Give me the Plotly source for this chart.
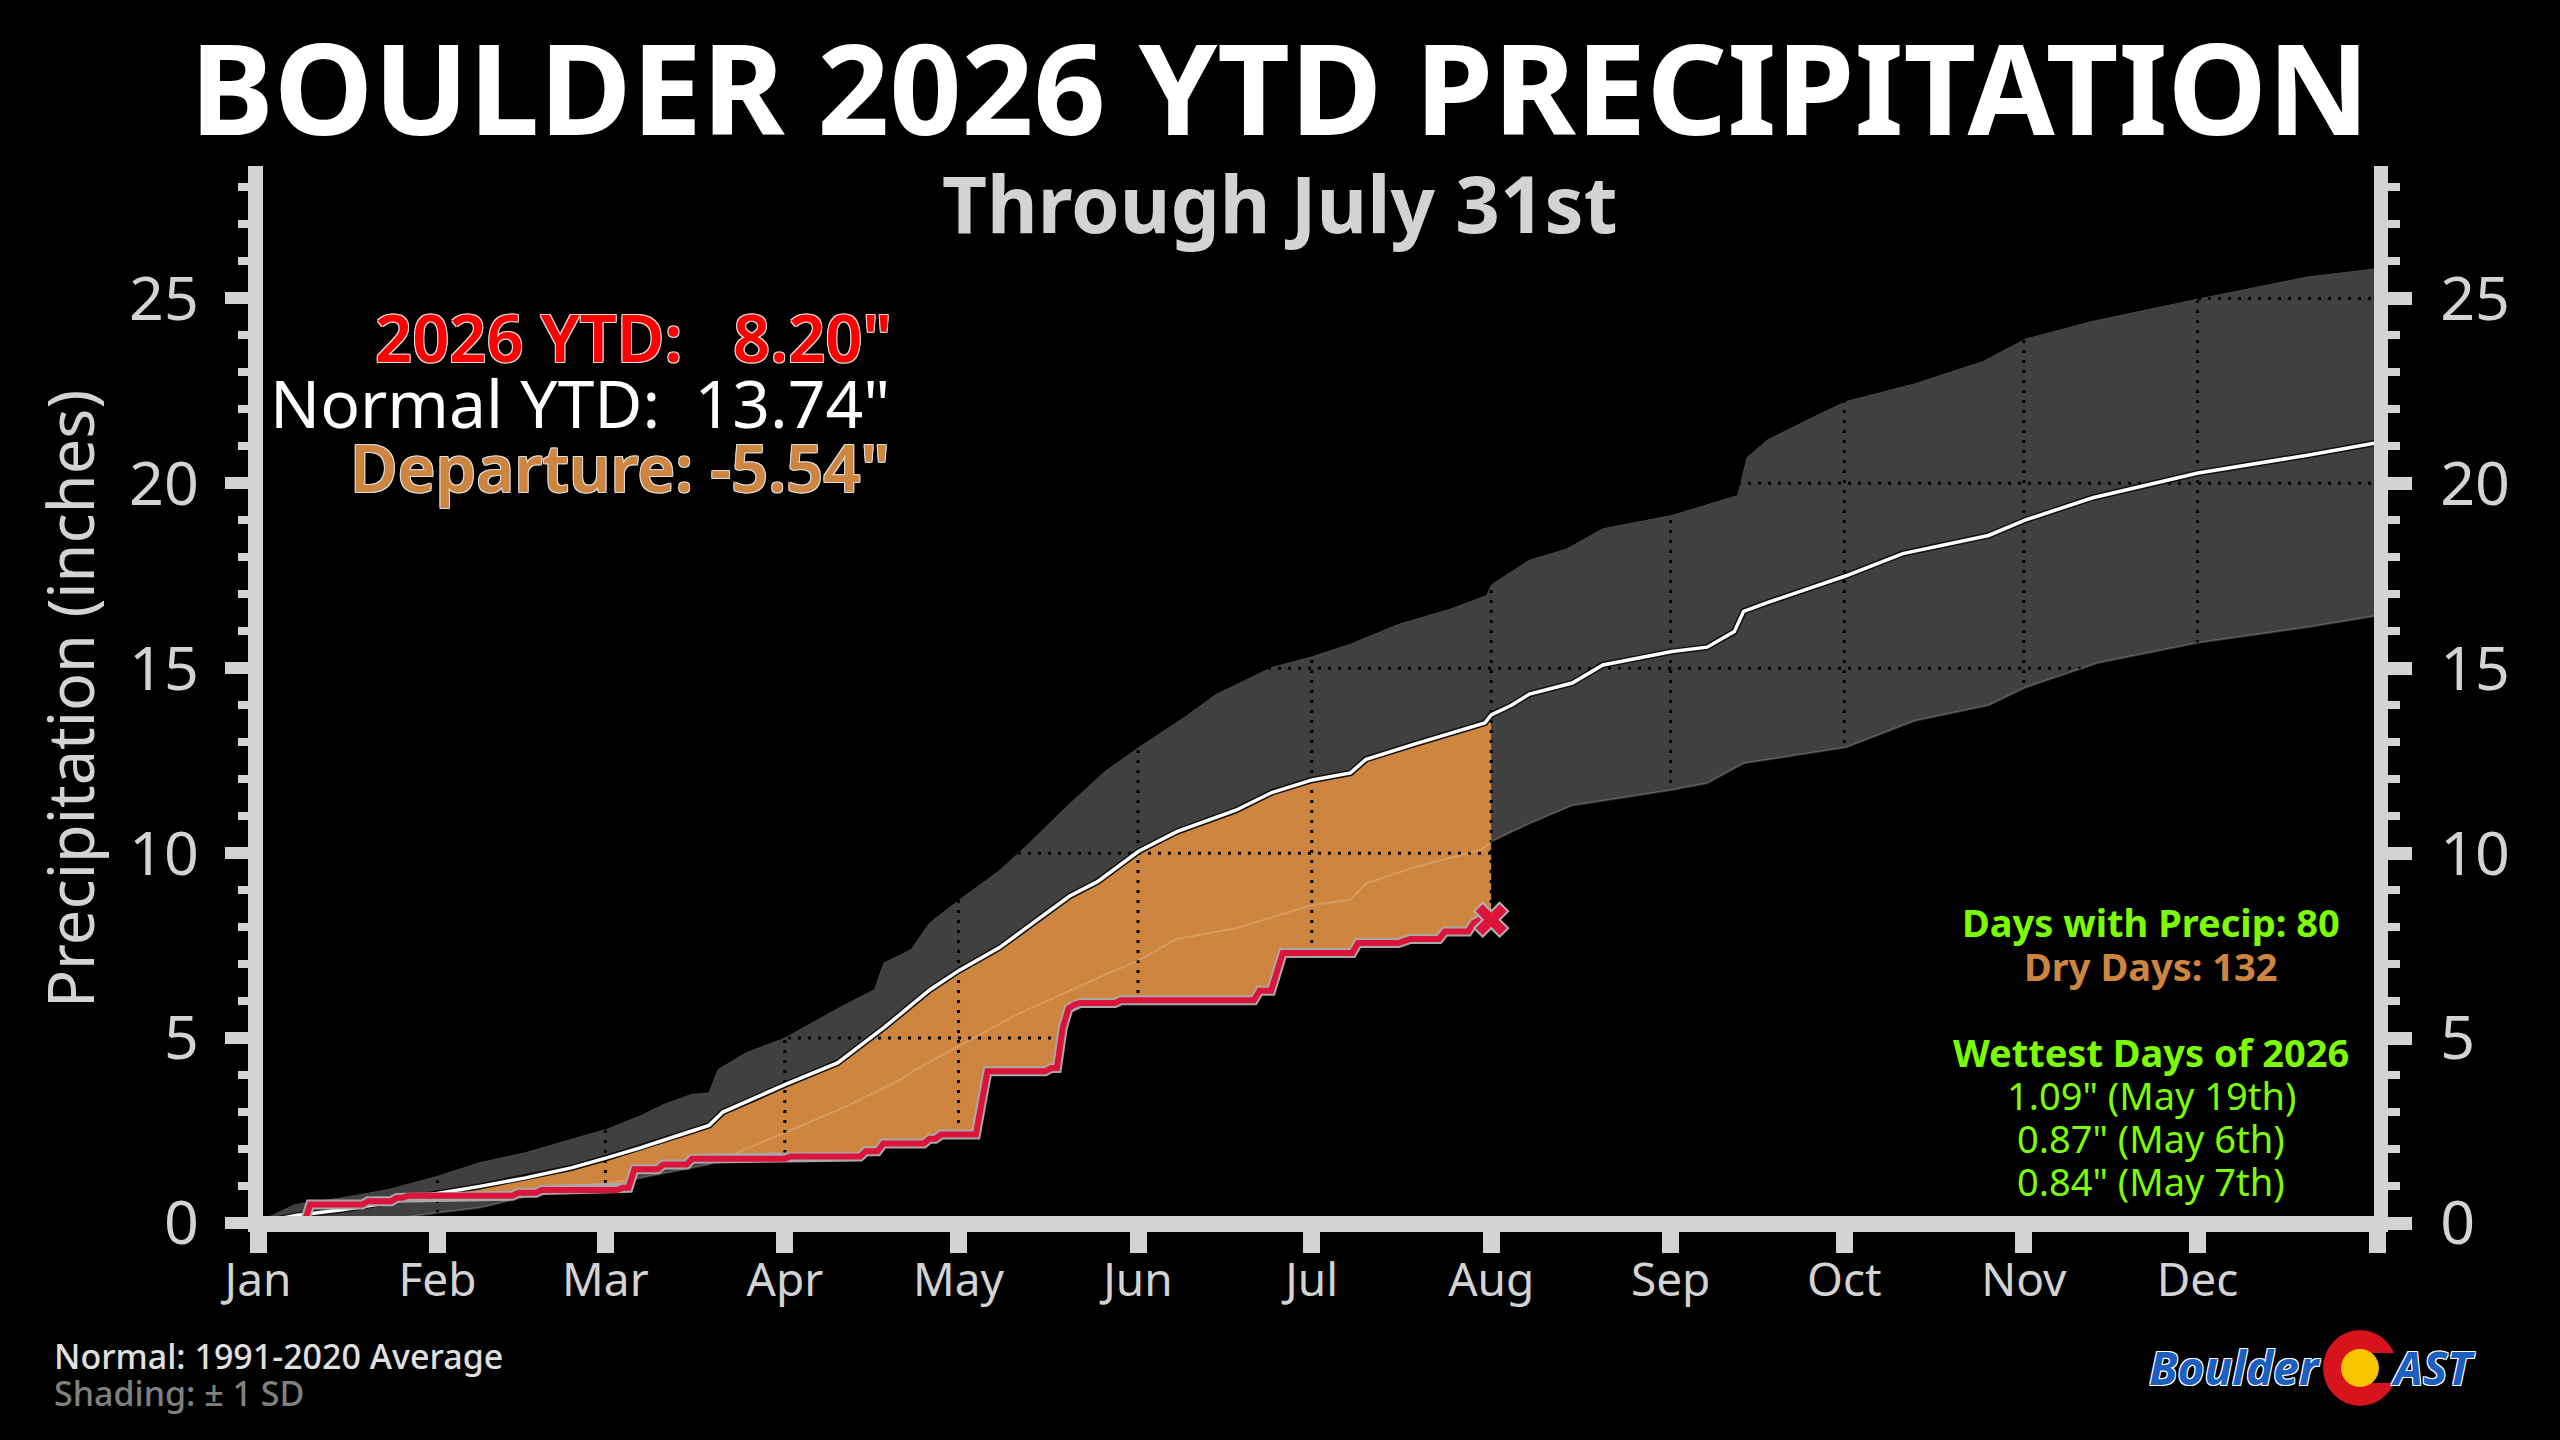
import plotly.graph_objects as go

# ---------------- data ----------------
month_ticks = [0, 31, 60, 91, 121, 152, 182, 213, 244, 274, 305, 335, 366]
month_labels = ["Jan", "Feb", "Mar", "Apr", "May", "Jun", "Jul", "Aug", "Sep", "Oct", "Nov", "Dec", ""]
y_ticks = [0, 5, 10, 15, 20, 25]

normal_days = [0, 6.5, 14.5, 22.4, 31, 38.3, 46.2, 54.1, 60.2, 66, 74, 77.9, 80.3, 85.9, 91,
               100.1, 108.1, 116, 121.1, 128, 133.4, 140.2, 145, 152.1, 158.7, 168.9, 175.1,
               182.1, 188.7, 191.4, 199.6, 211.9, 213, 216.5, 219.6, 227, 232.3, 244.2, 250.3,
               255, 256.6, 260.8, 274.3, 284.1, 298.9, 305.3, 316.9, 335.1, 354, 366]
normal_vals = [0, 0.20, 0.36, 0.55, 0.80, 0.99, 1.22, 1.49, 1.76, 2.03, 2.44, 2.64, 3.00, 3.38, 3.74,
               4.33, 5.28, 6.30, 6.83, 7.44, 8.07, 8.84, 9.23, 10.05, 10.58, 11.16, 11.64,
               11.98, 12.17, 12.54, 12.94, 13.52, 13.74, 14.00, 14.30, 14.60, 15.09, 15.45, 15.57,
               15.99, 16.54, 16.78, 17.50, 18.10, 18.59, 19.01, 19.61, 20.28, 20.76, 21.10]

upper_days = [0, 3, 6.5, 14.5, 22.4, 31, 38.3, 46.2, 54.1, 60.2, 66, 70, 74.8, 77.9, 79.5, 84.3, 91,
              100.9, 106.5, 108.1, 112.8, 116, 121.2, 128, 132.7, 139.6, 146.4, 152.1, 160, 165.5,
              175.1, 182.1, 188.7, 196.9, 206, 212.2, 213.1, 219.6, 226, 232.3, 244.2, 255.6, 257.2,
              260.8, 269.3, 274.3, 286.2, 297.9, 305.3, 316.9, 335.1, 354, 366]
upper_vals = [0, 0.25, 0.50, 0.68, 0.90, 1.26, 1.63, 1.90, 2.26, 2.53, 2.89, 3.20, 3.47, 3.52, 4.15, 4.60, 5.00,
              5.86, 6.31, 7.03, 7.39, 8.11, 8.74, 9.52, 10.19, 11.25, 12.22, 12.85, 13.67, 14.29,
              15.02, 15.31, 15.65, 16.18, 16.60, 16.96, 17.26, 17.92, 18.22, 18.77, 19.13, 19.67, 20.70,
              21.18, 21.84, 22.21, 22.69, 23.29, 23.90, 24.38, 24.98, 25.58, 25.80]

lower_days = [0, 15, 24, 31, 38.3, 42.2, 47.8, 49.4, 60.5, 64.4, 77.9, 91, 101.7, 110.9, 113.6, 121.1,
              131.4, 145, 152.1, 158.7, 168.9, 182.1, 188.7, 191.4, 199.6, 211.3, 213.1, 219.6, 227,
              244.2, 250.3, 256.6, 274.3, 286.2, 298.9, 305.3, 317.9, 335.1, 354, 366]
lower_vals = [0, 0, 0.12, 0.28, 0.41, 0.55, 0.77, 0.90, 1.08, 1.17, 1.58, 2.44, 3.16, 3.87, 4.15, 4.79,
              5.66, 6.62, 7.10, 7.68, 7.97, 8.60, 8.74, 9.18, 9.61, 10.09, 10.32, 10.80, 11.29,
              11.71, 11.89, 12.43, 12.86, 13.58, 14.00, 14.48, 15.15, 15.69, 16.11, 16.42]

# 2026 cumulative totals on the days they changed
ytd_days = [0, 9, 19, 24, 26, 45, 49, 63, 65, 70, 75, 92, 105, 108, 116, 118, 125, 126, 137, 139,
            140, 141, 142, 149, 173, 176, 177, 190, 198, 199, 205, 210, 211, 213]
ytd_vals = [0, 0.50, 0.59, 0.68, 0.74, 0.82, 0.89, 0.95, 1.45, 1.58, 1.74, 1.80, 1.94, 2.15, 2.28, 2.39,
            3.26, 4.10, 4.19, 5.28, 5.80, 5.90, 5.95, 6.02, 6.28, 6.80, 7.30, 7.57, 7.63, 7.68, 7.88,
            8.12, 8.20, 8.20]

ytd_total = "8.20"
normal_total = "13.74"
departure = "-5.54"
wet_days = 80
dry_days = 132
wettest = [("1.09", "May 19th"), ("0.87", "May 6th"), ("0.84", "May 7th")]

# ---------------- layout geometry ----------------
W, H = 2560, 1440
ML, MR, MT, MB = 258, 183, 166, 217
PW = W - ML - MR
PH = H - MT - MB
X_MIN, X_MAX = 0, 366
Y_MIN, Y_MAX = 0, 28.58

def px(xp):
    return (xp - ML) / PW

def py(yp):
    return (H - MB - yp) / PH

FONT = "Noto Sans, Open Sans, sans-serif"
LG = "#d3d3d3"
ORANGE = "#CD853F"
CRIMSON = "#DC143C"
GREEN = "#7CFC00"

# step path for 2026: one-day ramp before each change
sx, sy = [ytd_days[0]], [ytd_vals[0]]
for i in range(1, len(ytd_days)):
    if ytd_vals[i] != ytd_vals[i - 1]:
        sx.append(ytd_days[i] - 1)
        sy.append(ytd_vals[i - 1])
    sx.append(ytd_days[i])
    sy.append(ytd_vals[i])

# orange departure polygon pieces (from where normal passes 2026)
fill_start = 31
end_day = ytd_days[-1]
fx, fy = [], []
prev = 0
for xv, yv in zip(sx, sy):
    if xv < fill_start:
        prev = yv
        continue
    if not fx:
        fx.append(fill_start)
        fy.append(prev)
    fx.append(xv)
    fy.append(yv)
nx = [d for d in normal_days if fill_start <= d <= end_day]
ny = [v for d, v in zip(normal_days, normal_vals) if fill_start <= d <= end_day]

fig = go.Figure()

# +-1 SD band
fig.add_trace(go.Scatter(x=lower_days, y=lower_vals, mode="lines", line=dict(width=0, color="#404040"),
                         hoverinfo="skip"))
fig.add_trace(go.Scatter(x=upper_days, y=upper_vals, mode="lines", line=dict(width=1, color="#4a4a4a"),
                         fill="tonexty", fillcolor="#404040", hoverinfo="skip"))
# departure fill
fig.add_trace(go.Scatter(x=fx, y=fy, mode="lines", line=dict(width=0, color=ORANGE), hoverinfo="skip"))
fig.add_trace(go.Scatter(x=nx, y=ny, mode="lines", line=dict(width=0, color=ORANGE),
                         fill="tonexty", fillcolor=ORANGE, hoverinfo="skip"))

# dotted grid on top of fills
gx, gy = [], []
for m in month_ticks[1:-1]:
    gx += [m, m, None]
    gy += [Y_MIN, Y_MAX, None]
for v in y_ticks[1:]:
    gx += [X_MIN, X_MAX, None]
    gy += [v, v, None]
fig.add_trace(go.Scatter(x=gx, y=gy, mode="lines", line=dict(color="#000000", width=3, dash="3px,7px"),
                         hoverinfo="skip"))

# faint lower SD edge
fig.add_trace(go.Scatter(x=lower_days, y=lower_vals, mode="lines",
                         line=dict(color="rgba(255,235,210,0.22)", width=2), hoverinfo="skip"))

# normal line
fig.add_trace(go.Scatter(x=normal_days, y=normal_vals, mode="lines", line=dict(color="#111111", width=6.5),
                         hoverinfo="skip"))
fig.add_trace(go.Scatter(x=normal_days, y=normal_vals, mode="lines", line=dict(color="#ffffff", width=3.5),
                         hoverinfo="skip"))

# 2026 line
fig.add_trace(go.Scatter(x=sx, y=sy, mode="lines", line=dict(color="#a8a8a8", width=10), hoverinfo="skip"))
fig.add_trace(go.Scatter(x=sx, y=sy, mode="lines", line=dict(color=CRIMSON, width=6), hoverinfo="skip"))

# end marker (on right axis so it exists)
fig.add_trace(go.Scatter(x=[ytd_days[-1]], y=[ytd_vals[-1]], mode="markers", yaxis="y2",
                         marker=dict(symbol="x", size=30, color=CRIMSON, line=dict(color="#b0b0b0", width=2)),
                         hoverinfo="skip"))

# ---------------- axes ----------------
fig.update_layout(
    width=W, height=H,
    margin=dict(l=ML, r=MR, t=MT, b=MB, pad=0),
    paper_bgcolor="#000000", plot_bgcolor="#000000",
    showlegend=False,
    xaxis=dict(range=[X_MIN, X_MAX], tickmode="array", tickvals=month_ticks, ticktext=month_labels,
               ticks="outside", ticklen=29, tickwidth=17, tickcolor=LG, showgrid=False, zeroline=False,
               showline=False, tickfont=dict(family=FONT, size=46, color=LG), ticklabelstandoff=-12,
               fixedrange=True),
    yaxis=dict(range=[Y_MIN, Y_MAX], tickmode="array", tickvals=y_ticks, ticks="outside", ticklen=32,
               tickwidth=12, tickcolor=LG, showgrid=False, zeroline=False, showline=False,
               tickfont=dict(family=FONT, size=61, color=LG), ticklabelstandoff=14,
               minor=dict(dtick=1, tick0=0, ticks="outside", ticklen=19, tickwidth=8, tickcolor=LG, showgrid=False)),
    yaxis2=dict(range=[Y_MIN, Y_MAX], overlaying="y", side="right", anchor="x", tickmode="array",
                tickvals=y_ticks, ticks="outside", ticklen=34, tickwidth=13, tickcolor=LG, showgrid=False,
                zeroline=False, showline=False, tickfont=dict(family=FONT, size=61, color=LG),
                ticklabelstandoff=16,
                minor=dict(dtick=1, tick0=0, ticks="outside", ticklen=22, tickwidth=8, tickcolor=LG, showgrid=False)),
)

# spines as thick bars (centred on the zero lines like the original)
spines = [
    (248, 2388, 1216, 1232),
    (248, 263, 166, 1232),
    (2374, 2388, 166, 1232),
]
shapes = []
for x0, x1, y0, y1 in spines:
    shapes.append(dict(type="rect", xref="paper", yref="paper", x0=px(x0), x1=px(x1), y0=py(y1), y1=py(y0),
                       fillcolor=LG, line=dict(width=0), layer="above"))

# BoulderCAST logo pieces
cx, cy = 2360, 1368
shapes.append(dict(type="circle", xref="paper", yref="paper", x0=px(cx - 37), x1=px(cx + 37),
                   y0=py(cy + 38), y1=py(cy - 38), fillcolor="#d7141d", line=dict(width=0), layer="above"))
shapes.append(dict(type="rect", xref="paper", yref="paper", x0=px(cx + 5), x1=px(cx + 42),
                   y0=py(cy + 15), y1=py(cy - 15), fillcolor="#000000", line=dict(width=0), layer="above"))
shapes.append(dict(type="circle", xref="paper", yref="paper", x0=px(cx - 19), x1=px(cx + 19),
                   y0=py(cy + 19), y1=py(cy - 19), fillcolor="#f7c600", line=dict(width=0), layer="above"))
fig.update_layout(shapes=shapes)

# ---------------- text ----------------
ann = []

def add(text, xp, yp, size, color, xanchor="center", yanchor="middle", weight=None, shadow=None, angle=0,
        italic=False):
    f = dict(family=FONT, size=size, color=color)
    if weight:
        f["weight"] = weight
    if italic:
        f["style"] = "italic"
    if shadow:
        f["shadow"] = shadow
    ann.append(dict(text=text, x=px(xp), y=py(yp), xref="paper", yref="paper", xanchor=xanchor,
                    yanchor=yanchor, showarrow=False, font=f, textangle=angle, borderpad=0))

outline = "1px 1px 0 #dddddd, -1px -1px 0 #dddddd, 1px -1px 0 #dddddd, -1px 1px 0 #dddddd"

add("BOULDER 2026 YTD PRECIPITATION", 1280, 86, 126, "#ffffff", weight=700)
add("Through July 31st", 1280, 203, 78, LG, weight=700)

add("2026 YTD:\u00a0\u00a0 " + ytd_total + "\"", 893, 337, 65, "#ff0000", xanchor="right", weight=600,
    shadow=outline)
add("Normal YTD:\u00a0 " + normal_total + "\"", 891, 402, 66, "#ffffff", xanchor="right")
add("Departure: " + departure + "\"", 891, 467, 65, ORANGE, xanchor="right", weight=600, shadow=outline)

add("Days with Precip: %d" % wet_days, 2151, 922, 38, GREEN, weight=700)
add("Dry Days: %d" % dry_days, 2151, 966, 38, ORANGE, weight=700)
add("Wettest Days of 2026", 2151, 1052, 38, GREEN, weight=700)
for i, (amt, day) in enumerate(wettest):
    add("%s\" (%s)" % (amt, day), 2151, 1095 + 43.2 * i, 38, GREEN)

add("Precipitation (inches)", 69, 699, 63, LG, angle=-90)

add("Normal: 1991-2020 Average", 53, 1356, 34, "#e0e0e0", xanchor="left", weight=500)
add("Shading: \u00b1 1 SD", 53, 1393, 34, "#808080", xanchor="left", weight=500)

blue_outline = "1px 1px 0 #ffffff, -1px -1px 0 #ffffff, 1px -1px 0 #ffffff, -1px 1px 0 #ffffff"
add("Boulder", 2322, 1367, 46, "#1d5fbf", xanchor="right", weight=700, italic=True, shadow=blue_outline)
add("AST", 2390, 1367, 46, "#1d5fbf", xanchor="left", weight=700, italic=True, shadow=blue_outline)

fig.update_layout(annotations=ann)

fig.write_html("out.html", include_plotlyjs=True, full_html=True, config={"displayModeBar": False},
               post_script="document.body.style.margin='0';document.body.style.overflow='hidden';")
